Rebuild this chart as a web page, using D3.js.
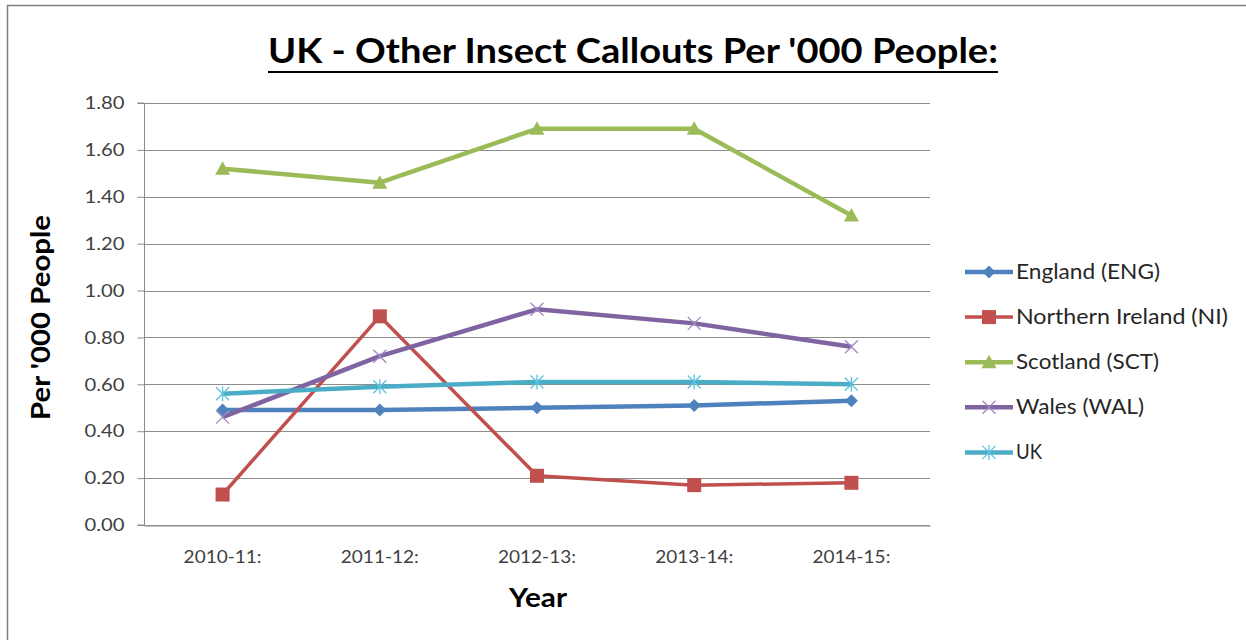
<!DOCTYPE html>
<html><head><meta charset="utf-8">
<script src="https://cdn.jsdelivr.net/npm/d3@7"></script>
<style>
html,body{margin:0;padding:0;background:#fff;}
svg{display:block;font-family:Lato,"Open Sans",sans-serif;}
</style></head>
<body><svg id="c" width="1246" height="640"></svg>
<script>
const years = ["2010-11:", "2011-12:", "2012-13:", "2013-14:", "2014-15:"];
const seriesNames = ["England (ENG)", "Northern Ireland (NI)", "Scotland (SCT)", "Wales (WAL)", "UK"];
const england = [0.49, 0.49, 0.50, 0.51, 0.53];
const northernIreland = [0.13, 0.89, 0.21, 0.17, 0.18];
const scotland = [1.52, 1.46, 1.69, 1.69, 1.32];
const wales = [0.46, 0.72, 0.92, 0.86, 0.76];
const uk = [0.56, 0.59, 0.61, 0.61, 0.60];
const yTicks = [0, 0.2, 0.4, 0.6, 0.8, 1.0, 1.2, 1.4, 1.6, 1.8];

const colors = ["#4F81BD", "#C0504D", "#9BBB59", "#8064A2", "#4BACC6"];
const markerColors = ["#4F81BD", "#C0504D", "#9BBB59", "#9F8AC4", "#5BC2E0"];
const markers = ["diamond", "square", "triangle", "x", "asterisk"];
const seriesData = [england, northernIreland, scotland, wales, uk];
const legendWidths = [144, 212, 143, 128, 26];

const svg = d3.select("#c");

// outer frame
svg.append("path").attr("d", "M7.5,660 L7.5,5.5 L1260,5.5")
  .attr("fill", "none").attr("stroke", "#7f7f7f").attr("stroke-width", 1.5);

const plot = {left: 144, right: 930, top: 103, bottom: 525};
const x = d3.scaleBand().domain(years).range([plot.left, plot.right]);
const y = d3.scaleLinear().domain([0, 1.8]).range([plot.bottom, plot.top]);

// gridlines
svg.append("g").selectAll("line").data(yTicks).join("line")
  .attr("x1", plot.left).attr("x2", plot.right)
  .attr("y1", d => Math.round(y(d)) + 0.5).attr("y2", d => Math.round(y(d)) + 0.5)
  .attr("stroke", "#8c8c8c").attr("stroke-width", 1);

// y axis
const yAxis = d3.axisLeft(y).tickValues(yTicks).tickFormat(d3.format(".2f")).tickSize(7).tickPadding(13);
const gy = svg.append("g").attr("transform", `translate(${plot.left + 0.5},0)`).call(yAxis);
gy.select(".domain").attr("stroke", "#8c8c8c").attr("d", `M-7,${plot.bottom}H0V${plot.top}H-7`);
gy.selectAll(".tick line").attr("stroke", "#8c8c8c");
gy.selectAll(".tick text").attr("fill", "#404040").style("font-size", "18px").style("font-family", "Lato")
  .attr("textLength", 40).attr("lengthAdjust", "spacingAndGlyphs");

// x axis
const xAxis = d3.axisBottom(x).tickSize(0).tickPadding(25);
const gx = svg.append("g").attr("transform", `translate(0,${Math.round(y(0)) + 0.5})`).call(xAxis);
gx.select(".domain").attr("stroke", "#8c8c8c");
gx.selectAll(".tick text").attr("fill", "#404040").style("font-size", "18px").style("font-family", "Lato")
  .attr("textLength", 78).attr("lengthAdjust", "spacingAndGlyphs");

// lines
const line = d3.line().x((d, i) => x(years[i]) + x.bandwidth() / 2).y(d => y(d));
seriesData.forEach((arr, s) => {
  svg.append("path").datum(arr).attr("d", line)
    .attr("fill", "none").attr("stroke", colors[s])
    .attr("stroke-width", s === 1 ? 3.5 : 4.5).attr("stroke-linejoin", "round");
});

function drawMarker(g, type, cx, cy, color) {
  if (type === "diamond") {
    g.append("path").attr("d", `M${cx},${cy-6.5}L${cx+6.5},${cy}L${cx},${cy+6.5}L${cx-6.5},${cy}Z`).attr("fill", color);
  } else if (type === "square") {
    g.append("rect").attr("x", cx - 7).attr("y", cy - 7).attr("width", 14).attr("height", 14).attr("fill", color);
  } else if (type === "triangle") {
    g.append("path").attr("d", `M${cx},${cy-7.5}L${cx+7.5},${cy+6}L${cx-7.5},${cy+6}Z`).attr("fill", color);
  } else if (type === "x") {
    g.append("path").attr("d", `M${cx-6.5},${cy-6.5}L${cx+6.5},${cy+6.5}M${cx-6.5},${cy+6.5}L${cx+6.5},${cy-6.5}`)
      .attr("stroke", color).attr("stroke-width", 1.3).attr("fill", "none");
  } else if (type === "asterisk") {
    g.append("path").attr("d", `M${cx-6.5},${cy-6.5}L${cx+6.5},${cy+6.5}M${cx-6.5},${cy+6.5}L${cx+6.5},${cy-6.5}M${cx},${cy-7.5}L${cx},${cy+7.5}`)
      .attr("stroke", color).attr("stroke-width", 1.3).attr("fill", "none");
  }
}

seriesData.forEach((arr, s) => {
  const g = svg.append("g");
  arr.forEach((v, i) => drawMarker(g, markers[s], x(years[i]) + x.bandwidth() / 2, y(v), markerColors[s]));
});

// title
svg.append("text").attr("x", 268).attr("y", 63)
  .style("font-family", "Lato").style("font-weight", "bold").style("font-size", "35px").attr("fill", "#000")
  .attr("textLength", 730).attr("lengthAdjust", "spacingAndGlyphs")
  .text("UK - Other Insect Callouts Per '000 People:");
svg.append("line").attr("x1", 268).attr("x2", 998).attr("y1", 72).attr("y2", 72).attr("stroke", "#000").attr("stroke-width", 2);

// axis titles
svg.append("text").attr("transform", "translate(49.5,420) rotate(-90)")
  .style("font-family", "Lato").style("font-weight", "bold").style("font-size", "26px")
  .attr("textLength", 205).attr("lengthAdjust", "spacingAndGlyphs").text("Per '000 People");
svg.append("text").attr("x", 509).attr("y", 607)
  .style("font-family", "Lato").style("font-weight", "bold").style("font-size", "27px")
  .attr("textLength", 58).attr("lengthAdjust", "spacingAndGlyphs").text("Year");

// legend
const lg = svg.append("g");
seriesNames.forEach((name, s) => {
  const ly = 272 + s * 45.1;
  lg.append("line").attr("x1", 965).attr("x2", 1013).attr("y1", ly).attr("y2", ly)
    .attr("stroke", colors[s]).attr("stroke-width", s === 1 ? 3.5 : 4.5);
  drawMarker(lg, markers[s], 989, ly, markerColors[s]);
  lg.append("text").attr("x", 1016).attr("y", ly + 7).style("font-family", "Lato").style("font-size", "21px")
    .attr("fill", "#262626").attr("textLength", legendWidths[s]).attr("lengthAdjust", "spacingAndGlyphs").text(name);
});
</script></body></html>
